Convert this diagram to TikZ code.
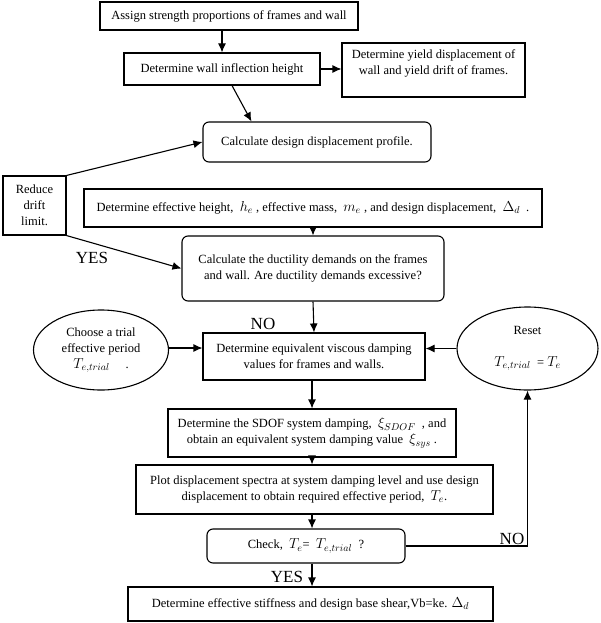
\documentclass[tikz,border=0pt]{standalone}
\usepackage{fontspec}
\setmainfont{Liberation Serif}
\usetikzlibrary{shapes.geometric,arrows.meta,calc}
\newcommand{\mth}[1]{{\fontsize{14}{16}\selectfont$#1$}}
\tikzset{
  box/.style={draw, rectangle, line width=1.1pt, inner sep=2pt, align=center},
  rbox/.style={box, rounded corners=6pt},
  oval/.style={draw, ellipse, line width=1.1pt, inner sep=0pt, align=center},
  flow/.style={line width=1.1pt, -{Latex[length=9pt,width=8pt]}},
  answer/.style={font=\fontsize{17}{19}\selectfont},
}
\begin{document}
\begin{tikzpicture}[x=1pt,y=-1pt]
  \useasboundingbox (0,0) rectangle (600,623);
  {\fontsize{12.5}{16}\selectfont

  % Boxes of the main column
  \node [box, minimum width=258pt, minimum height=28pt] (assign) at (229,16) {Assign strength proportions of frames and wall};%
  \node [box, minimum width=196pt, minimum height=32pt] (inflect) at (222,69) {Determine wall inflection height};%
  \node [box, minimum width=183pt, minimum height=54pt] (yield) at (433.5,70) {};%
  \node [align=center, anchor=north] (yieldtxt) at ($(yield.north)+(0,3)$) {Determine yield displacement of\\wall and yield drift of frames.};%
  \node [rbox, minimum width=228pt, minimum height=40pt] (profile) at (317,142) {Calculate design displacement profile.};%
  \node [box, minimum width=63pt, minimum height=59pt] (reduce) at (34.5,205.5) {Reduce\\drift\\limit.};%
  \node [box, minimum width=458pt, minimum height=38pt] (effective) at (313,208) {Determine effective height, \ \mth{h_e} , effective mass, \ \mth{m_e} , and design displacement, \ \mth{\Delta_d} \ .};%
  \node [rbox, minimum width=262pt, minimum height=65pt] (ductility) at (313,268.5) {Calculate the ductility demands on the frames\\and wall. Are ductility demands excessive?};%
  \node [box, minimum width=222pt, minimum height=47pt] (equiv) at (314,356.5) {Determine equivalent viscous damping\\values for frames and walls.};%
  \node [box, minimum width=288pt, minimum height=48pt] (sdof) at (312,433) {Determine the SDOF system damping, \ \mth{\xi_{SDOF}} \ , and\\obtain an equivalent system damping value \ \mth{\xi_{sys}} .};%
  \node [box, minimum width=357pt, minimum height=49pt] (spectra) at (314.5,489.5) {Plot displacement spectra at system damping level and use design\\displacement to obtain required effective period, \ \mth{T_e}.};%
  \node [rbox, minimum width=198pt, minimum height=34pt] (check) at (306,546) {Check, \ \mth{T_e}= \ \mth{T_{e,trial}} \ ?};%
  \node [box, minimum width=365pt, minimum height=34pt] (stiffness) at (310.5,604) {Determine effective stiffness and design base shear,Vb=ke. \mth{\Delta_d}};%

  % Ellipses at the sides
  \node [oval, minimum width=135pt, minimum height=80pt] (trial) at (101,350) {Choose a trial\\effective period\\\mth{T_{e,trial}} \quad .};%
  \node [oval, minimum width=141pt, minimum height=83pt] (reset) at (527.5,348.5) {Reset\\[16pt]\mth{T_{e,trial}} \ = \mth{T_e}};%

  % Connectors
  \draw [flow] (assign.south -| inflect.north) -- (inflect.north);%
  \draw [flow] (inflect.east) -- (inflect.east -| yield.west);%
  \draw [flow] ($(inflect.south)+(10,0)$) -- ($(profile.north west)+(49,0)$);%
  \draw [flow] (reduce.north east) -- (profile.west);%
  \draw [flow] (reduce.south east) -- (ductility.west);%
  \draw [flow] (effective.south) -- (ductility.north);%
  \draw [flow] (ductility.south) -- (equiv.north);%
  \draw [flow] ($(trial.east)+(0,-2)$) -- ($(trial.east -| equiv.west)+(0,-2)$);%
  \draw [flow] (reset.west) -- (reset.west -| equiv.east);%
  \draw [flow] (equiv.south -| sdof.north) -- (sdof.north);%
  \draw [flow] (sdof.south) -- (sdof.south |- spectra.north);%
  \draw [flow] (sdof.south |- spectra.south) -- (sdof.south |- check.north);%
  \draw [flow] (sdof.south |- check.south) -- (sdof.south |- stiffness.north);%
  \draw [flow] (check.east) -| (reset.south);%

  % Answers
  \node [answer] (yes1) at (92,258) {YES};%
  \node [answer] (no1) at (263,324) {NO};%
  \node [answer] (no2) at (512,539) {NO};%
  \node [answer] (yes2) at (287,577) {YES};%
  }
\end{tikzpicture}
\end{document}
